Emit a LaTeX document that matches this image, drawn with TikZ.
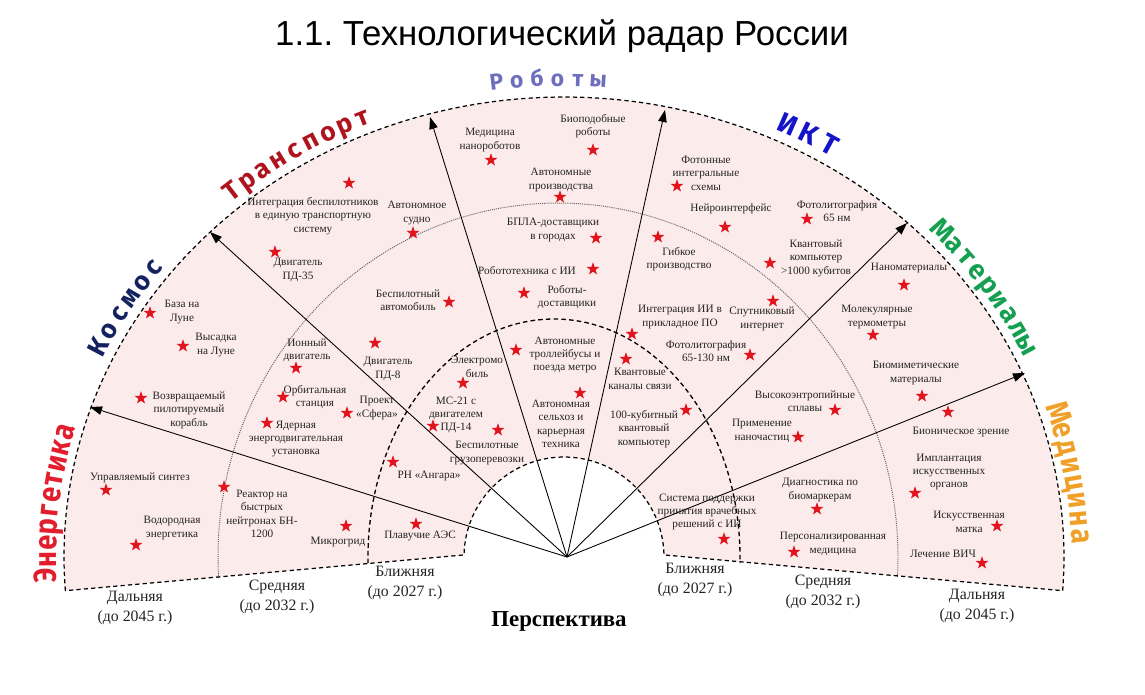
\documentclass[tikz,border=0pt]{standalone}
\usepackage{fontspec}
\setmainfont{Liberation Serif}
\newfontfamily\titlefont{Liberation Sans}
\newfontfamily\catfont{Fira Sans}
\frenchspacing
\usetikzlibrary{shapes.geometric,arrows.meta,calc}
\definecolor{pinkbg}{RGB}{252,235,235}
\definecolor{starred}{RGB}{225,20,30}
\definecolor{txtcol}{RGB}{35,35,35}
\definecolor{cEn}{RGB}{226,30,45}
\definecolor{cKo}{RGB}{20,35,95}
\definecolor{cTr}{RGB}{175,20,30}
\definecolor{cRo}{RGB}{110,110,190}
\definecolor{cIk}{RGB}{20,20,200}
\definecolor{cMa}{RGB}{20,160,80}
\definecolor{cMe}{RGB}{240,160,40}
\tikzset{
  txt/.style={font=\fontsize{6.4}{7.65}\selectfont, align=center, inner sep=0pt, text=txtcol},
  rstar/.style={star, star points=5, star point ratio=2.5, fill=starred, draw=none, inner sep=0pt, minimum size=0.27cm},
  per/.style={font=\fontsize{9}{11.3}\selectfont, align=center, inner sep=0pt, text=txtcol},
  bnd/.style={dash pattern=on 2.4pt off 1.8pt, line width=0.7pt},
  ringnear/.style={dash pattern=on 2.6pt off 1.8pt, line width=0.75pt},
  ringmid/.style={dash pattern=on 0.6pt off 0.6pt, line width=0.55pt, black!60},
  axis/.style={line width=0.5pt, -{Triangle[length=2.4mm,width=1.7mm]}},
}
% #1 name, #2 letters, #3 start angle, #4 step, #5 size, #6 colour, #7 offset, #8 hscale
\newcommand\arcword[8]{%
  \foreach \ch [count=\i] in {#2} {%
    \pgfmathsetmacro\myT{#3-(\i-1)*(#4)}%
    \pgfmathsetmacro\myR{atan2(-460*cos(\myT),500*sin(\myT))}%
    \node[anchor=base, inner sep=0pt, text=#6, font=\catfont\bfseries\fontsize{#5}{#5}\selectfont, rotate=\myR] (#1\i) at ({564+(500+#7)*cos(\myT)},{-557+(460+#7)*sin(\myT)}) {\scalebox{#8}[1]{\ch}};
  }}
\begin{document}
\begin{tikzpicture}[x=0.02cm,y=0.02cm]
\useasboundingbox (0,0) rectangle (1145,-694);
\coordinate (E) at (564,-557);
\path (E) ++(184.2:500 and 460) coordinate (L);
\path (E) ++(-4.2:500 and 460) coordinate (R);
\path (E) ++(1.2:100) coordinate (H2);
\path (E) ++(178.8:100) coordinate (H1);
\fill[pinkbg] (L) arc[start angle=184.2,end angle=-4.2,x radius=500,y radius=460] -- (H2) arc[start angle=1.2,end angle=178.8,radius=100] -- cycle;
% rings
\coordinate (M) at (558,-557);
\path (M) ++(183.4:340 and 354) coordinate (ML);
\draw[ringmid] (ML) arc[start angle=183.4,end angle=-3.4,x radius=340,y radius=354];
\coordinate (N) at (554,-557);
\path (N) ++(181.5:186 and 238) coordinate (NL);
\draw[ringnear] (NL) arc[start angle=181.5,end angle=-1.5,x radius=186,y radius=238];
% axes
\coordinate (O) at (567,-557);
\coordinate (a1) at (90,-407);
\coordinate (a2) at (210,-232);
\coordinate (a3) at (430,-117);
\coordinate (a4) at (665,-110);
\coordinate (a5) at (907,-223);
\coordinate (a6) at (1025,-373);
\foreach \k in {1,...,6} {\draw[axis] (O) -- (a\k);}
% boundary
\draw[bnd] (L) arc[start angle=184.2,end angle=-4.2,x radius=500,y radius=460] -- (H2) arc[start angle=1.2,end angle=178.8,radius=100] -- cycle;
% title
\node[font=\titlefont\fontsize{19.8}{24}\selectfont, inner sep=0pt] (title) at (562,-36) {1.1. Технологический радар России};
% category labels
\arcword{en}{Э,н,е,р,г,е,т,и,к,а}{182.2}{1.93}{18}{cEn}{8}{0.86}
\arcword{ko}{К,о,с,м,о,с}{154}{2.28}{15}{cKo}{9}{1}
\arcword{tr}{Т,р,а,н,с,п,о,р,т}{130}{2.125}{15}{cTr}{9}{1}
\arcword{ro}{Р,о,б,о,т,ы}{97.5}{2.26}{13}{cRo}{11}{1}
\arcword{ik}{И,К,Т}{64.5}{2.65}{16}{cIk}{10}{1}
\arcword{ma}{М,а,т,е,р,и,а,л,ы}{43}{2.07}{15.5}{cMa}{9}{1}
\arcword{me}{М,е,д,и,ц,и,н,а}{17.5}{2.14}{18}{cMe}{8}{0.86}
% Энергетика
\node[txt] (t1) at (140,-478) {Управляемый синтез};
\node[rstar] (s1) at (106,-490) {};
\node[txt] (t2) at (172,-528) {Водородная\\энергетика};
\node[rstar] (s2) at (136,-545) {};
\node[txt] (t3) at (262,-514) {Реактор на\\быстрых\\нейтронах БН-\\1200};
\node[rstar] (s3) at (224,-487) {};
\node[txt] (t4) at (338,-542) {Микрогрид};
\node[rstar] (s4) at (346,-526) {};
\node[txt] (t5) at (420,-536) {Плавучие АЭС};
\node[rstar] (s5) at (416,-524) {};
% Космос
\node[txt] (t6) at (182,-312) {База на\\Луне};
\node[rstar] (s6) at (150,-313) {};
\node[txt] (t7) at (216,-345) {Высадка\\на Луне};
\node[rstar] (s7) at (183,-346) {};
\node[txt] (t8) at (189,-410) {Возвращаемый\\пилотируемый\\корабль};
\node[rstar] (s8) at (141,-398) {};
\node[txt] (t9) at (307,-350) {Ионный\\двигатель};
\node[rstar] (s9) at (296,-368) {};
\node[txt] (t10) at (315,-397) {Орбитальная\\станция};
\node[rstar] (s10) at (283,-397) {};
\node[txt] (t11) at (296,-439) {Ядерная\\энергодвигательная\\установка};
\node[rstar] (s11) at (267,-423) {};
\node[txt] (t12) at (377,-408) {Проект\\«Сфера»};
\node[rstar] (s12) at (347,-413) {};
% Транспорт
\node[txt] (t13) at (313,-216) {Интеграция беспилотников\\в единую транспортную\\систему};
\node[rstar] (s13) at (349,-183) {};
\node[txt] (t14) at (298,-270) {Двигатель\\ПД-35};
\node[rstar] (s14) at (275,-252) {};
\node[txt] (t15) at (417,-213) {Автономное\\судно};
\node[rstar] (s15) at (413,-233) {};
\node[txt] (t16) at (408,-300) {Беспилотный\\автомобиль};
\node[rstar] (s16) at (449,-302) {};
\node[txt] (t17) at (388,-369) {Двигатель\\ПД-8};
\node[rstar] (s17) at (375,-343) {};
\node[txt] (t18) at (477,-367) {Электромо\\биль};
\node[rstar] (s18) at (463,-383) {};
\node[txt] (t19) at (456,-415) {МС-21 с\\двигателем\\ПД-14};
\node[rstar] (s19) at (433,-426) {};
\node[txt] (t20) at (487,-453) {Беспилотные\\грузоперевозки};
\node[rstar] (s20) at (498,-430) {};
\node[txt] (t21) at (429,-476) {РН «Ангара»};
\node[rstar] (s21) at (393,-462) {};
% Роботы
\node[txt] (t22) at (490,-140) {Медицина\\нанороботов};
\node[rstar] (s22) at (491,-160) {};
\node[txt] (t23) at (593,-126) {Биоподобные\\роботы};
\node[rstar] (s23) at (593,-150) {};
\node[txt] (t24) at (561,-180) {Автономные\\производства};
\node[rstar] (s24) at (560,-197) {};
\node[txt] (t25) at (553,-230) {БПЛА-доставщики\\в городах};
\node[rstar] (s25) at (596,-238) {};
\node[txt] (t26) at (527,-271) {Робототехника с ИИ};
\node[rstar] (s26) at (593,-269) {};
\node[txt] (t27) at (567,-297) {Роботы-\\доставщики};
\node[rstar] (s27) at (524,-293) {};
\node[txt] (t28) at (565,-355) {Автономные\\троллейбусы и\\поезда метро};
\node[rstar] (s28) at (516,-350) {};
\node[txt] (t29) at (561,-424) {Автономная\\сельхоз и\\карьерная\\техника};
\node[rstar] (s29) at (580,-393) {};
% ИКТ
\node[txt] (t30) at (706,-173) {Фотонные\\интегральные\\схемы};
\node[rstar] (s30) at (677,-186) {};
\node[txt] (t31) at (731,-209) {Нейроинтерфейс};
\node[rstar] (s31) at (725,-227) {};
\node[txt] (t32) at (837,-211) {Фотолитография\\65 нм};
\node[rstar] (s32) at (807,-219) {};
\node[txt] (t33) at (679,-259) {Гибкое\\производство};
\node[rstar] (s33) at (658,-237) {};
\node[txt] (t34) at (816,-258) {Квантовый\\компьютер\\>1000 кубитов};
\node[rstar] (s34) at (770,-263) {};
\node[txt] (t35) at (762,-319) {Спутниковый\\интернет};
\node[rstar] (s35) at (773,-301) {};
\node[txt] (t36) at (680,-317) {Интеграция ИИ в\\прикладное ПО};
\node[rstar] (s36) at (632,-334) {};
\node[txt] (t37) at (706,-351) {Фотолитография\\65-130 нм};
\node[rstar] (s37) at (750,-355) {};
\node[txt] (t38) at (640,-379) {Квантовые\\каналы связи};
\node[rstar] (s38) at (626,-359) {};
\node[txt] (t39) at (644,-429) {100-кубитный\\квантовый\\компьютер};
\node[rstar] (s39) at (686,-410) {};
% Материалы
\node[txt] (t40) at (805,-401) {Высокоэнтропийные\\сплавы};
\node[rstar] (s40) at (835,-410) {};
\node[txt] (t41) at (762,-431) {Применение\\наночастиц};
\node[rstar] (s41) at (798,-437) {};
\node[txt] (t42) at (909,-268) {Наноматериалы};
\node[rstar] (s42) at (904,-285) {};
\node[txt] (t43) at (877,-317) {Молекулярные\\термометры};
\node[rstar] (s43) at (873,-335) {};
\node[txt] (t44) at (916,-373) {Биомиметические\\материалы};
\node[rstar] (s44) at (922,-396) {};
% Медицина
\node[txt] (t45) at (961,-432) {Бионическое зрение};
\node[rstar] (s45) at (948,-412) {};
\node[txt] (t46) at (949,-472) {Имплантация\\искусственных\\органов};
\node[rstar] (s46) at (915,-493) {};
\node[txt] (t47) at (969,-522) {Искусственная\\матка};
\node[rstar] (s47) at (997,-526) {};
\node[txt] (t48) at (943,-554) {Лечение ВИЧ};
\node[rstar] (s48) at (982,-563) {};
\node[txt] (t49) at (820,-490) {Диагностика по\\биомаркерам};
\node[rstar] (s49) at (817,-509) {};
\node[txt] (t50) at (833,-544) {Персонализированная\\медицина};
\node[rstar] (s50) at (794,-552) {};
\node[txt] (t51) at (707,-512) {Система поддержки\\принятия врачебных\\решений с ИИ};
\node[rstar] (s51) at (724,-539) {};
% horizons
\node[per] (b1) at (135,-608) {Дальняя\\(до 2045 г.)};
\node[per] (b2) at (277,-597) {Средняя\\(до 2032 г.)};
\node[per] (b3) at (405,-583) {Ближняя\\(до 2027 г.)};
\node[per] (b4) at (695,-580) {Ближняя\\(до 2027 г.)};
\node[per] (b5) at (823,-592) {Средняя\\(до 2032 г.)};
\node[per] (b6) at (977,-606) {Дальняя\\(до 2045 г.)};
\node[font=\bfseries\fontsize{13}{15}\selectfont, inner sep=0pt] (persp) at (559,-621) {Перспектива};
\end{tikzpicture}
\end{document}
